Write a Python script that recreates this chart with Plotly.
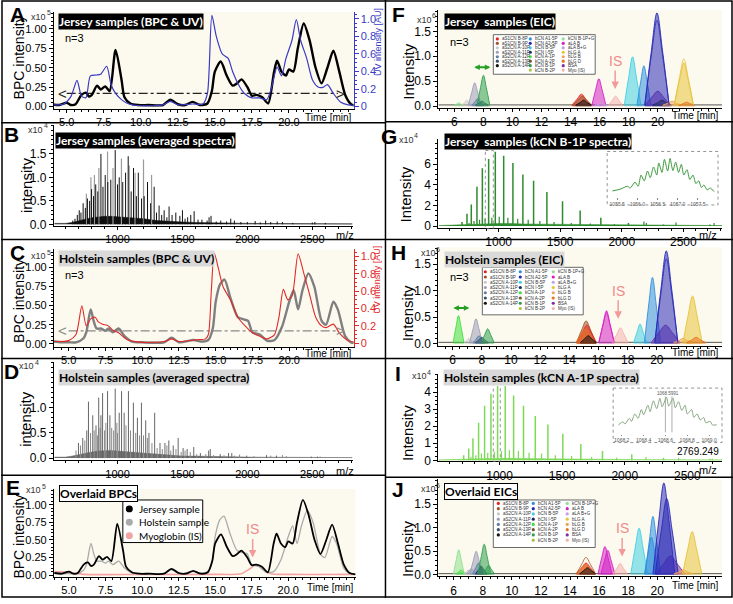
import plotly.graph_objects as go

W, H = 733, 604
def px(x): return x / W
def py(y): return 1 - y / H

# ======================= DATA =======================
# Base peak chromatograms (x10^5) vs time [min]
jersey_bpc_t = [4.0,4.5,5.0,5.3,5.6,6.0,6.3,6.5,6.7,7.05,7.3,7.6,7.9,8.3,8.7,8.9,9.3,9.8,10.5,11.5,12.0,12.5,13.0,13.5,14.0,14.5,14.8,15.0,15.4,15.8,16.2,16.5,16.8,17.2,17.5,17.8,18.2,18.6,19.0,19.2,19.5,19.8,20.0,20.3,20.6,21.0,21.4,21.8,22.2,22.6,23.0,23.4,23.8,24.2,24.6]
jersey_bpc_v = [0.03,0.02,0.05,0.02,0.03,0.15,0.18,0.13,0.15,0.27,0.22,0.26,0.2,0.73,0.35,0.12,0.04,0.02,0.02,0.02,0.09,0.03,0.02,0.06,0.02,0.04,0.2,0.45,0.58,0.4,0.27,0.3,0.35,0.25,0.14,0.15,0.12,0.04,0.45,0.59,0.45,0.4,0.48,0.45,0.75,1.07,0.85,0.5,0.3,0.5,0.72,0.45,0.15,0.03,0.01]
holstein_bpc_t = [4.0,4.5,5.0,5.5,6.0,6.2,6.5,6.7,6.9,7.2,7.5,7.7,8.0,8.4,8.8,9.3,10.0,11.5,12.0,12.5,13.5,14.0,14.5,14.8,15.0,15.3,15.6,16.0,16.5,16.9,17.2,17.5,18.0,18.5,19.0,19.5,20.0,20.3,20.6,20.9,21.3,21.7,22.2,22.5,23.0,23.3,23.8,24.2,24.6]
holstein_bpc_v = [0.03,0.02,0.02,0.02,0.07,0.15,0.45,0.3,0.2,0.2,0.17,0.2,0.15,0.2,0.1,0.03,0.02,0.02,0.08,0.02,0.05,0.03,0.05,0.2,0.55,0.78,0.84,0.6,0.35,0.32,0.3,0.15,0.12,0.04,0.05,0.22,0.55,0.7,0.45,0.7,0.92,0.75,0.3,0.25,0.55,0.45,0.1,0.02,0.01]
myo_bpc_t = [4.0,5.0,6.0,10.0,15.0,16.8,17.3,17.8,18.3,18.8,20.0,24.6]
myo_bpc_v = [0.05,0.04,0.01,0.01,0.01,0.02,0.08,0.15,0.08,0.02,0.01,0.01]
# UV traces [AU]
jersey_uv_t = [4.0,4.8,5.3,5.7,6.0,6.3,6.6,7.0,7.3,7.7,8.0,8.3,8.7,9.2,10.0,11.5,12.0,12.5,13.5,14.2,14.5,14.8,15.1,15.5,15.9,16.2,16.6,17.0,17.5,18.0,18.5,18.8,19.2,19.5,19.8,20.2,20.5,20.8,21.2,21.6,22.0,22.3,22.6,23.0,23.5,24.0,24.6]
jersey_uv_v = [0.02,0.03,0.12,0.3,0.12,0.1,0.35,0.36,0.37,0.46,0.25,0.15,0.08,0.03,0.01,0.02,0.06,0.02,0.03,0.03,0.15,1.04,0.8,0.6,0.55,0.4,0.25,0.15,0.1,0.1,0.08,0.2,0.45,0.35,0.55,0.75,0.99,0.75,0.55,0.3,0.22,0.22,0.25,0.15,0.05,0.02,0.01]
holstein_uv_t = [4.0,5.0,5.5,5.9,6.2,6.5,6.8,7.0,7.3,7.7,8.0,8.4,9.0,10.0,11.5,12.0,12.5,13.7,14.3,14.5,14.7,14.9,15.2,15.5,16.0,16.5,17.0,17.5,18.0,18.5,19.0,19.3,19.6,19.9,20.2,20.6,21.0,21.4,21.8,22.2,22.5,23.0,23.4,24.0,24.6]
holstein_uv_v = [0.02,0.03,0.1,0.43,0.2,0.28,0.3,0.25,0.22,0.2,0.15,0.12,0.04,0.01,0.02,0.05,0.02,0.04,0.05,0.1,0.6,1.04,0.85,0.65,0.5,0.3,0.2,0.12,0.08,0.05,0.1,0.3,0.62,0.5,0.55,1.03,0.8,0.55,0.3,0.2,0.18,0.22,0.12,0.03,0.01]
threshold_t = [5.0, 23.3]
threshold_v = [0.17, 0.17]

# Averaged spectra (x10^4) vs m/z
B_black_mz = [655,672,690,705,718,735,752,768,785,800,815,832,848,872,888,905,925,948,982,1000,1013,1040,1062,1082,1105,1123,1145,1160,1185,1205,1231,1255,1282,1300,1320,1340,1359,1380,1397,1420,1449,1480,1500,1520,1540,1564,1590,1620,1650,1690,1705,1720,1760,1795,1840,1872,1900,1950,2000,2060,2100,2141,2180,2230,2270,2350,2500,2520,2600]
B_black_h = [0.08,0.12,0.2,0.3,0.25,0.45,0.35,0.55,0.5,0.75,0.6,0.85,0.7,1.5,0.8,1.05,0.9,0.95,1.58,0.85,1.0,0.9,1.1,1.45,0.7,1.2,0.6,1.1,0.55,0.6,0.9,0.45,0.8,0.25,0.4,0.2,0.3,0.15,0.38,0.2,0.25,0.18,0.3,0.12,0.15,0.2,0.28,0.1,0.1,0.08,0.15,0.18,0.06,0.08,0.06,0.12,0.08,0.05,0.05,0.07,0.04,0.08,0.05,0.06,0.05,0.03,0.04,0.05,0.03]
B_gray_mz = [760,795,822,856,923,965,1030,1090,1135,1200,1262]
B_gray_h = [0.65,1.0,1.05,1.2,1.55,1.2,1.4,1.25,1.1,1.38,1.05]
B_base_mz = [515,600,650,700,750,800,850,900,950,1000,1100,1200,1300,1400,1500,1600,1700,1800,2000,2300,2810]
B_base_h = [0.02,0.02,0.04,0.08,0.11,0.14,0.16,0.17,0.17,0.16,0.14,0.12,0.08,0.06,0.05,0.04,0.03,0.03,0.02,0.02,0.01]
D_major_mz = [699,732,763,776,809,834,855,872,885,923,941,982,1013,1031,1051,1084,1122,1153,1184,1217,1242,1286,1327,1365,1395,1429,1467,1505,1536,1587,1638,1702,1714,1791,1855,1880,1995,2148,2224,2492,2540]
D_major_h = [0.3,0.4,0.55,1.12,0.85,0.65,1.2,0.85,1.29,1.33,0.85,1.38,0.9,1.33,0.9,1.33,1.1,0.8,1.1,0.75,0.5,0.9,0.3,0.3,0.35,0.25,0.4,0.2,0.18,0.22,0.1,0.15,0.18,0.08,0.1,0.1,0.05,0.06,0.05,0.03,0.03]
D_minor_mz = [680,715,748,792,820,845,865,900,910,955,970,995,1000,1065,1100,1140,1170,1200,1230,1265,1305,1345,1380,1410,1450,1490,1520,1560,1610,1680,1740,1820,1900,1940,2050,2180,2270,2300,2560]
D_minor_h = [0.15,0.25,0.35,0.5,0.55,0.45,0.6,0.55,0.7,0.6,0.55,0.7,0.5,0.65,0.55,0.5,0.45,0.45,0.4,0.3,0.2,0.18,0.25,0.15,0.18,0.12,0.15,0.12,0.08,0.08,0.06,0.06,0.05,0.07,0.04,0.05,0.06,0.04,0.03]
D_base_mz = [515,600,650,700,750,800,850,900,950,1000,1100,1200,1300,1400,1500,1600,1700,1800,2000,2300,2810]
D_base_h = [0.02,0.02,0.04,0.07,0.1,0.12,0.14,0.15,0.15,0.14,0.12,0.1,0.07,0.05,0.04,0.04,0.03,0.03,0.02,0.02,0.01]

# kCN spectra (x10^4)
G_major_mz = [703,743,778,824,868,919,973,1041,1116,1197,1284,1392,1519,1662,1830,2054,2338,2716]
G_major_h = [0.4,1.2,2.1,3.8,5.6,6.5,7.2,6.8,6.1,5.0,4.4,3.3,2.4,1.5,0.8,0.3,0.15,0.15]
G_minor_mz = [760,800,845,890,945,1005,1075,1155,1240,1335,1450,1590,1745,1940,2180,2200,2440,2750]
G_minor_h = [0.3,0.5,0.6,0.7,0.8,0.9,0.8,0.7,0.6,0.5,0.4,0.3,0.25,0.2,0.45,0.3,0.35,0.3]
I_major_mz = [713,753,787,832,880,931,984,1045,1112,1191,1285,1386,1505,1649,1822,2056,2309,2681]
I_major_h = [0.3,0.7,1.3,2.2,3.2,3.9,4.35,4.35,3.8,3.2,2.6,2.1,1.55,0.95,0.55,0.35,0.15,0.1]
I_minor_mz = [770,810,855,905,958,1015,1078,1150,1235,1335,1445,1575,1735,1935,2170,2430,2700]
I_minor_h = [0.2,0.3,0.4,0.45,0.5,0.55,0.6,0.55,0.45,0.4,0.3,0.25,0.2,0.15,0.2,0.15,0.1]
GI_base_mz = [515,650,700,800,900,1000,1100,1200,1400,1600,1800,2100,2500,2814]
G_base_h = [0.05,0.1,0.15,0.2,0.25,0.25,0.25,0.2,0.18,0.15,0.12,0.1,0.08,0.05]
I_base_h = [0.03,0.06,0.08,0.1,0.12,0.12,0.12,0.1,0.09,0.08,0.06,0.05,0.04,0.03]

# Insets (isotope patterns, relative intensity)
G_inset_mz = [1055.38,1055.59,1055.75,1055.82,1055.94,1056.02,1056.09,1056.17,1056.25,1056.32,1056.40,1056.48,1056.53,1056.61,1056.67,1056.75,1056.81,1056.88,1056.95,1057.02,1057.09,1057.15,1057.23,1057.30,1057.38,1057.45,1057.52,1057.59,1057.65,1057.73,1057.81,1057.90]
G_inset_v = [0.185,0.23,0.29,0.25,0.38,0.29,0.54,0.41,0.63,0.48,0.72,0.54,0.81,0.6,0.89,0.63,0.91,0.64,0.83,0.6,0.78,0.54,0.66,0.44,0.54,0.35,0.41,0.26,0.32,0.21,0.25,0.17]
G_inset_ticks = [1055.5, 1056.0, 1056.5, 1057.0, 1057.5]
I_inset_mz = [1068.17,1068.21,1068.23,1068.27,1068.29,1068.32,1068.35,1068.38,1068.40,1068.44,1068.46,1068.49,1068.52,1068.55,1068.57,1068.61,1068.63,1068.67,1068.69,1068.72,1068.75,1068.78,1068.80,1068.84,1068.86,1068.89,1068.92,1068.95,1068.97,1069.01,1069.03,1069.07]
I_inset_v = [0.25,0.32,0.27,0.4,0.33,0.5,0.4,0.6,0.48,0.7,0.55,0.8,0.62,0.86,0.66,0.88,0.68,0.86,0.64,0.78,0.58,0.7,0.5,0.6,0.42,0.5,0.36,0.42,0.3,0.33,0.25,0.25]
I_inset_ticks = [1068.2, 1068.4, 1068.6, 1068.8, 1069.0]
I_inset_marks = [1068.60, 1068.66]

# Extracted ion chromatograms (x10^6): (species, times, intensities)
F_eic = [
    ('kCN B-1P+G', [5.97,6.15,6.3,6.45,6.63], [0.02,0.042,0.07,0.042,0.02]),
    ('aS2CN A-10P', [6.52,6.7,6.85,7.0,7.18], [0.02,0.072,0.12,0.072,0.02]),
    ('aS2CN A-11P', [6.96,7.2,7.4,7.6,7.84], [0.02,0.28,0.47,0.28,0.02]),
    ('aS2CN A-12P', [7.2,7.42,7.6,7.78,8.0], [0.02,0.09,0.15,0.09,0.02]),
    ('aS2CN A-13P', [7.46,7.7,7.9,8.1,8.34], [0.02,0.06,0.1,0.06,0.02]),
    ('kCN B-1P', [7.56,7.8,8.0,8.2,8.44], [0.02,0.37,0.62,0.37,0.02]),
    ('aS1CN B-8P', [14.09,14.45,14.75,15.05,15.41], [0.02,0.14,0.24,0.14,0.02]),
    ('aS1CN B-9P', [14.14,14.5,14.8,15.1,15.46], [0.02,0.12,0.2,0.12,0.02]),
    ('aS2CN A-14P', [14.35,14.65,14.9,15.15,15.45], [0.02,0.07,0.12,0.07,0.02]),
    ('aLA B', [15.47,15.73,15.95,16.17,16.43], [0.02,0.33,0.55,0.33,0.02]),
    ('aLA B+G', [15.66,15.9,16.1,16.3,16.54], [0.02,0.036,0.06,0.036,0.02]),
    ('Myo (IS)', [16.62,16.88,17.1,17.32,17.58], [0.02,0.12,0.2,0.12,0.02]),
    ('bCN B-5P', [17.7,18.01,18.27,18.53,18.84], [0.02,0.59,0.99,0.59,0.02]),
    ('bCN A1-5P', [18.57,18.83,19.05,19.27,19.53], [0.02,0.49,0.81,0.49,0.02]),
    ('BSA', [19.12,19.6,20.0,20.4,20.88], [0.02,0.18,0.3,0.18,0.02]),
    ('bCN A2-5P', [19.11,19.57,19.95,20.33,20.79], [0.02,1.12,1.87,1.12,0.02]),
    ('bCN I-5P', [19.64,20.0,20.3,20.6,20.96], [0.02,0.07,0.12,0.07,0.02]),
    ('bLG B', [20.34,20.7,21.0,21.3,21.66], [0.02,0.06,0.1,0.06,0.02]),
    ('bLG A', [21.14,21.5,21.8,22.1,22.46], [0.02,0.52,0.87,0.52,0.02]),
    ('bLG D', [21.45,21.75,22.0,22.25,22.55], [0.02,0.05,0.08,0.05,0.02]),
]
F_rep = [
    ('bCN A2-5P', [19.11,19.57,19.95,20.33,20.79], [0.02,1.03,1.72,1.03,0.02]),
    ('bLG A', [21.14,21.5,21.8,22.1,22.46], [0.02,0.57,0.95,0.57,0.02]),
]
H_eic = [
    ('kCN A-1P', [6.03,6.23,6.4,6.57,6.77], [0.02,0.32,0.53,0.32,0.02]),
    ('aS2CN A-10P', [6.77,6.95,7.1,7.25,7.43], [0.02,0.06,0.1,0.06,0.02]),
    ('aS2CN A-11P', [7.16,7.4,7.6,7.8,8.04], [0.02,0.28,0.47,0.28,0.02]),
    ('aS2CN A-12P', [7.4,7.62,7.8,7.98,8.2], [0.02,0.09,0.15,0.09,0.02]),
    ('aS2CN A-13P', [7.56,7.8,8.0,8.2,8.44], [0.02,0.07,0.12,0.07,0.02]),
    ('kCN B-1P', [7.96,8.2,8.4,8.6,8.84], [0.02,0.17,0.28,0.17,0.02]),
    ('aS1CN B-9P', [14.49,14.85,15.15,15.45,15.81], [0.02,0.26,0.43,0.26,0.02]),
    ('aS1CN B-8P', [14.54,14.9,15.2,15.5,15.86], [0.02,0.21,0.35,0.21,0.02]),
    ('bLG D', [14.44,14.8,15.1,15.4,15.76], [0.02,0.17,0.28,0.17,0.02]),
    ('aS2CN A-14P', [14.75,15.05,15.3,15.55,15.85], [0.02,0.09,0.15,0.09,0.02]),
    ('aLA B', [16.02,16.31,16.55,16.79,17.08], [0.02,0.37,0.62,0.37,0.02]),
    ('Myo (IS)', [16.97,17.26,17.5,17.74,18.03], [0.02,0.18,0.3,0.18,0.02]),
    ('bCN B-5P', [18.41,18.65,18.85,19.05,19.29], [0.02,0.22,0.37,0.22,0.02]),
    ('bCN A1-5P', [19.15,19.45,19.7,19.95,20.25], [0.02,0.75,1.25,0.75,0.02]),
    ('BSA', [19.61,20.15,20.6,21.05,21.59], [0.02,0.21,0.35,0.21,0.02]),
    ('bCN A2-5P', [19.86,20.29,20.65,21.01,21.44], [0.02,1.05,1.75,1.05,0.02]),
    ('bLG B', [21.14,21.5,21.8,22.1,22.46], [0.02,0.06,0.1,0.06,0.02]),
    ('bLG A', [21.79,22.15,22.45,22.75,23.11], [0.02,0.54,0.9,0.54,0.02]),
    ('bLG D', [22.04,22.4,22.7,23.0,23.36], [0.02,0.07,0.12,0.07,0.02]),
]
H_rep = [
    ('bCN A2-5P', [19.86,20.29,20.65,21.01,21.44], [0.02,0.96,1.6,0.96,0.02]),
    ('aLA B', [16.02,16.31,16.55,16.79,17.08], [0.02,0.35,0.58,0.35,0.02]),
]
J_eic = [
    ('kCN B-1P+G', [5.98,6.18,6.35,6.52,6.72], [0.02,0.32,0.53,0.32,0.02]),
    ('kCN A-1P', [6.17,6.35,6.5,6.65,6.83], [0.02,0.06,0.1,0.06,0.02]),
    ('aS2CN A-10P', [6.67,6.85,7.0,7.15,7.33], [0.02,0.06,0.1,0.06,0.02]),
    ('aS2CN A-11P', [6.87,7.05,7.2,7.35,7.53], [0.02,0.08,0.13,0.08,0.02]),
    ('aS2CN A-11P', [7.11,7.35,7.55,7.75,7.99], [0.02,0.3,0.5,0.3,0.02]),
    ('aS2CN A-12P', [7.3,7.52,7.7,7.88,8.1], [0.02,0.15,0.25,0.15,0.02]),
    ('bCN I-5P', [7.5,7.72,7.9,8.08,8.3], [0.02,0.11,0.18,0.11,0.02]),
    ('kCN B-1P', [7.66,7.9,8.1,8.3,8.54], [0.02,0.39,0.65,0.39,0.02]),
    ('kCN B-1P', [8.0,8.22,8.4,8.58,8.8], [0.02,0.12,0.2,0.12,0.02]),
    ('aS1CN B-8P', [14.44,14.8,15.1,15.4,15.76], [0.02,0.15,0.25,0.15,0.02]),
    ('bLG D', [14.39,14.75,15.05,15.35,15.71], [0.02,0.13,0.22,0.13,0.02]),
    ('aS2CN A-14P', [14.65,14.95,15.2,15.45,15.75], [0.02,0.09,0.15,0.09,0.02]),
    ('aLA B', [15.92,16.18,16.4,16.62,16.88], [0.02,0.36,0.6,0.36,0.02]),
    ('aLA B', [16.12,16.38,16.6,16.82,17.08], [0.02,0.31,0.52,0.31,0.02]),
    ('Myo (IS)', [16.97,17.23,17.45,17.67,17.93], [0.02,0.14,0.24,0.14,0.02]),
    ('bCN B-5P', [18.18,18.49,18.75,19.01,19.32], [0.02,0.59,0.99,0.59,0.02]),
    ('bCN A1-5P', [19.17,19.46,19.7,19.94,20.23], [0.02,0.74,1.24,0.74,0.02]),
    ('bCN A1-5P', [19.12,19.38,19.6,19.82,20.08], [0.02,0.48,0.8,0.48,0.02]),
    ('BSA', [19.91,20.45,20.9,21.35,21.89], [0.02,0.24,0.4,0.24,0.02]),
    ('bCN A2-5P', [19.7,20.11,20.45,20.79,21.2], [0.02,1.17,1.95,1.17,0.02]),
    ('bCN A2-5P', [19.86,20.29,20.65,21.01,21.44], [0.02,0.97,1.62,0.97,0.02]),
    ('bLG B', [21.14,21.5,21.8,22.1,22.46], [0.02,0.06,0.1,0.06,0.02]),
    ('bLG A', [21.74,22.1,22.4,22.7,23.06], [0.02,0.55,0.92,0.55,0.02]),
]
J_rep = [
    ('aS1CN B-9P', [14.44,14.8,15.1,15.4,15.76], [0.02,0.22,0.37,0.22,0.02]),
]
eic_base_t = [4.9, 24.5]
eic_base_v = [0.025, 0.025]

legend_col1 = ['aS1CN B-8P','aS1CN B-9P','aS2CN A-10P','aS2CN A-11P','aS2CN A-12P','aS2CN A-13P','aS2CN A-14P']
legend_col2 = ['bCN A1-5P','bCN A2-5P','bCN B-5P','bCN I-5P','kCN A-1P','kCN A-2P','kCN B-1P','kCN B-2P']
legend_col3 = ['kCN B-1P+G','aLA B','aLA B+G','bLG A','bLG B','bLG D','BSA','Myo (IS)']
E_legend_names = ['Jersey sample', 'Holstein sample', 'Myoglobin (IS)']

# ======================= STYLE =======================
SPECIES_COLORS = {
    'aS1CN B-8P': '#e8231e', 'aS1CN B-9P': '#a0522d', 'aS2CN A-10P': '#c8c8c8',
    'aS2CN A-11P': '#9d9db8', 'aS2CN A-12P': '#5b7fa6', 'aS2CN A-13P': '#34506e',
    'aS2CN A-14P': '#111111', 'bCN A1-5P': '#2f8fe0', 'bCN A2-5P': '#2a2ab8',
    'bCN B-5P': '#3fd0e6', 'bCN I-5P': '#1c2b5e', 'kCN A-1P': '#3ee03e',
    'kCN A-2P': '#6b5b2b', 'kCN B-1P': '#2f9e4f', 'kCN B-2P': '#a8c23a',
    'kCN B-1P+G': '#8fe08f', 'aLA B': '#d41fc4', 'aLA B+G': '#c49fe3',
    'bLG A': '#e8c23a', 'bLG B': '#f0a060', 'bLG D': '#e8741f',
    'BSA': '#7f2f9f', 'Myo (IS)': '#f4b0b0',
}
E_legend_colors = ['#000000', '#aaaaaa', '#f4a3a3']
CREAM = '#fcfaee'
JBLUE = '#3a3ac4'
HRED = '#e02a2a'
ARIAL = 'Liberation Sans, Arial, sans-serif'
TITLEF = 'Lato, Open Sans, sans-serif'

def rgba(h, a):
    h = h.lstrip('#')
    return 'rgba(%d,%d,%d,%.2f)' % (int(h[0:2], 16), int(h[2:4], 16), int(h[4:6], 16), a)

fig = go.Figure()

def add_line(x, y, xa, ya, color, width, spline=True, dash=None):
    ln = dict(color=color, width=width)
    if spline:
        ln.update(shape='spline', smoothing=0.7)
    if dash:
        ln['dash'] = dash
    fig.add_trace(go.Scatter(x=x, y=y, xaxis=xa, yaxis=ya, mode='lines', line=ln,
                             hoverinfo='skip', showlegend=False))

def sticks(mz, h):
    xs, ys = [], []
    for m, v in zip(mz, h):
        xs += [m, m, None]
        ys += [0, v, None]
    return xs, ys

def add_sticks(mz, h, xa, ya, color, width=1):
    xs, ys = sticks(mz, h)
    fig.add_trace(go.Scatter(x=xs, y=ys, xaxis=xa, yaxis=ya, mode='lines',
                             line=dict(color=color, width=width), hoverinfo='skip', showlegend=False))

def add_fill(x, y, xa, ya, color):
    fig.add_trace(go.Scatter(x=x, y=y, xaxis=xa, yaxis=ya, mode='lines', fill='tozeroy',
                             fillcolor=color, line=dict(color=color, width=0.5),
                             hoverinfo='skip', showlegend=False))

def add_eic(peaks, reps, xa, ya):
    add_line(eic_base_t, eic_base_v, xa, ya, '#555555', 1, spline=False)
    for sp, t, v in peaks:
        c = SPECIES_COLORS[sp]
        fig.add_trace(go.Scatter(x=t, y=v, xaxis=xa, yaxis=ya, mode='lines', fill='tozeroy',
                                 fillcolor=rgba(c, 0.55),
                                 line=dict(color=c, width=0.9, shape='spline', smoothing=1.0),
                                 hoverinfo='skip', showlegend=False))
    for sp, t, v in reps:
        c = SPECIES_COLORS[sp]
        fig.add_trace(go.Scatter(x=t, y=v, xaxis=xa, yaxis=ya, mode='lines',
                                 line=dict(color=c, width=0.8, shape='spline', smoothing=1.0),
                                 hoverinfo='skip', showlegend=False))

# ---- A: Jersey BPC & UV
add_line(threshold_t, threshold_v, 'x', 'y', '#222222', 1.2, spline=False, dash='dashdot')
add_line(jersey_uv_t, jersey_uv_v, 'x', 'y11', JBLUE, 1.2)
add_line(jersey_bpc_t, jersey_bpc_v, 'x', 'y', '#000000', 2.4)
# ---- B: Jersey averaged spectra
add_fill(B_base_mz, B_base_h, 'x2', 'y2', '#111111')
add_sticks(B_gray_mz, B_gray_h, 'x2', 'y2', '#9a9a9a', 1.2)
add_sticks(B_black_mz, B_black_h, 'x2', 'y2', '#111111', 1)
# ---- C: Holstein BPC & UV
add_line(threshold_t, threshold_v, 'x3', 'y3', '#888888', 1.2, spline=False, dash='dashdot')
add_line(holstein_uv_t, holstein_uv_v, 'x3', 'y12', HRED, 1.1)
add_line(holstein_bpc_t, holstein_bpc_v, 'x3', 'y3', '#7f7f7f', 2.4)
# ---- D: Holstein averaged spectra
add_fill(D_base_mz, D_base_h, 'x4', 'y4', '#6e6e6e')
add_sticks(D_minor_mz, D_minor_h, 'x4', 'y4', '#8a8a8a', 1)
add_sticks(D_major_mz, D_major_h, 'x4', 'y4', '#666666', 1)
# ---- E: overlaid BPCs
add_line(myo_bpc_t, myo_bpc_v, 'x5', 'y5', E_legend_colors[2], 1.6)
add_line(holstein_bpc_t, holstein_bpc_v, 'x5', 'y5', E_legend_colors[1], 1.3)
add_line(jersey_bpc_t, jersey_bpc_v, 'x5', 'y5', E_legend_colors[0], 1.8)
# ---- F, H, J: EICs
add_eic(F_eic, F_rep, 'x6', 'y6')
add_eic(H_eic, H_rep, 'x8', 'y8')
add_eic(J_eic, J_rep, 'x10', 'y10')
# ---- G, I: kCN spectra
add_fill(GI_base_mz, G_base_h, 'x7', 'y7', '#2e8b2e')
add_sticks(G_minor_mz, G_minor_h, 'x7', 'y7', '#2e8b2e', 1.2)
add_sticks(G_major_mz, G_major_h, 'x7', 'y7', '#2e8b2e', 1.5)
add_fill(GI_base_mz, I_base_h, 'x9', 'y9', '#7ed957')
add_sticks(I_minor_mz, I_minor_h, 'x9', 'y9', '#7ed957', 1.2)
add_sticks(I_major_mz, I_major_h, 'x9', 'y9', '#7ed957', 1.5)
# ---- insets
add_line(G_inset_mz, G_inset_v, 'x11', 'y13', '#3c9a3c', 1)
mk_x, mk_y = [], []
for m in I_inset_marks:
    mk_x += [m, m, None]
    mk_y += [0.08, 0.9, None]
fig.add_trace(go.Scatter(x=mk_x, y=mk_y, xaxis='x12', yaxis='y14', mode='lines',
                         line=dict(color='#999999', width=0.8), hoverinfo='skip', showlegend=False))
add_line(I_inset_mz, I_inset_v, 'x12', 'y14', '#8aa882', 1)

# ======================= AXES =======================
TF = dict(family=ARIAL, size=11, color='black')

def xax(x0, x1, rng, tv, tt, mdt, anchor, tf=TF):
    return dict(domain=[px(x0), px(x1)], range=rng, anchor=anchor,
                showline=True, linecolor='black', linewidth=1,
                ticks='outside', ticklen=3, tickwidth=1, tickcolor='black',
                tickmode='array', tickvals=tv, ticktext=tt, tickfont=tf,
                showgrid=False, zeroline=False,
                minor=dict(ticks='outside', ticklen=2, dtick=mdt, tick0=0,
                           tickcolor='black', showgrid=False))

def yax(top, bot, rng, tv, tt, mdt, anchor, color='black', side='left', overlaying=None, tf=TF):
    d = dict(domain=[py(bot), py(top)], range=rng, anchor=anchor, side=side,
             showline=True, linecolor=color, linewidth=1,
             ticks='outside', ticklen=4, tickwidth=1, tickcolor=color,
             tickmode='array', tickvals=tv, ticktext=tt,
             tickfont=dict(family=tf['family'], size=tf['size'], color=color),
             showgrid=False, zeroline=False,
             minor=dict(ticks='outside', ticklen=2, dtick=mdt, tick0=0,
                        tickcolor=color, showgrid=False))
    if overlaying:
        d['overlaying'] = overlaying
    return d

t_tv = [5, 7.5, 10, 12.5, 15, 17.5, 20]
t_tt = ['5.0', '7.5', '10.0', '12.5', '15.0', '17.5', '20.0']
b_tv = [0, 0.25, 0.5, 0.75, 1.0]
b_tt = ['0.00', '0.25', '0.50', '0.75', '1.00']
uv_tv = [0, 0.2, 0.4, 0.6, 0.8, 1.0]
uv_tt = ['0', '0.2', '0.4', '0.6', '0.8', '1.0']
mz_tv = [1000, 1500, 2000, 2500]
mz_tt = ['1000', '1500', '2000', '2500']
e_tv = [6, 8, 10, 12, 14, 16, 18, 20]
e_tt = ['6', '8', '10', '12', '14', '16', '18', '20']
TF12 = dict(family=ARIAL, size=12, color='black')

layout = {}
layout['xaxis'] = xax(53, 353, [4.14, 24.36], t_tv, t_tt, 0.5, 'y')
layout['yaxis'] = yax(12, 110, [-0.03, 1.22], b_tv, b_tt, 0.05, 'x')
layout['yaxis11'] = yax(12, 110, [-0.026, 1.079], uv_tv, uv_tt, 0.05, 'x', color=JBLUE, side='right', overlaying='y')
layout['xaxis2'] = xax(53, 352, [510, 2810], mz_tv, mz_tt, 100, 'y2')
layout['yaxis2'] = yax(126, 228, [-0.03, 2.12], [0, 0.5, 1.0, 1.5], ['0.0', '0.5', '1.0', '1.5'], 0.1, 'x2', tf=TF12)
layout['xaxis3'] = xax(53, 353, [4.0, 24.37], t_tv, t_tt, 0.5, 'y3')
layout['yaxis3'] = yax(252, 350, [-0.035, 1.233], b_tv, b_tt, 0.05, 'x3')
layout['yaxis12'] = yax(252, 350, [-0.038, 1.08], uv_tv, uv_tt, 0.05, 'x3', color=HRED, side='right', overlaying='y3')
layout['xaxis4'] = xax(53, 352, [510, 2810], mz_tv, mz_tt, 100, 'y4')
layout['yaxis4'] = yax(366, 465, [-0.045, 1.9], [0, 0.5, 1.0], ['0.0', '0.5', '1.0'], 0.1, 'x4', tf=TF12)
layout['xaxis5'] = xax(53, 355, [3.97, 24.6], t_tv, t_tt, 0.5, 'y5')
layout['yaxis5'] = yax(494, 583, [-0.03, 1.225], b_tv, b_tt, 0.05, 'x5')
layout['xaxis6'] = xax(438, 722, [4.9, 24.43], e_tv, e_tt, 0.5, 'y6', tf=TF12)
layout['yaxis6'] = yax(10, 109, [-0.035, 1.93], [0, 0.5, 1.0, 1.5], ['0.0', '0.5', '1.0', '1.5'], 0.1, 'x6', tf=TF12)
layout['xaxis7'] = xax(438, 722, [511, 2814], mz_tv, mz_tt, 100, 'y7', tf=TF12)
layout['yaxis7'] = yax(140, 230, [-0.16, 8.47], [0, 2, 4, 6], ['0', '2', '4', '6'], 0.5, 'x7', tf=TF12)
layout['xaxis8'] = xax(438, 722, [5.02, 24.47], e_tv, e_tt, 0.5, 'y8', tf=TF12)
layout['yaxis8'] = yax(250, 349, [-0.035, 1.815], [0, 0.5, 1.0, 1.5], ['0.0', '0.5', '1.0', '1.5'], 0.1, 'x8', tf=TF12)
layout['xaxis9'] = xax(438, 722, [511, 2777], mz_tv, mz_tt, 100, 'y9', tf=TF12)
layout['yaxis9'] = yax(378, 466, [-0.06, 5.04], [0, 1, 2, 3, 4], ['0', '1', '2', '3', '4'], 0.25, 'x9', tf=TF12)
layout['xaxis10'] = xax(438, 722, [4.95, 24.45], e_tv, e_tt, 0.5, 'y10', tf=TF12)
layout['yaxis10'] = yax(484, 582, [-0.03, 2.03], [0, 0.5, 1.0, 1.5], ['0.0', '0.5', '1.0', '1.5'], 0.1, 'x10', tf=TF12)
# insets
tiny = dict(family=ARIAL, size=5, color='#555555')
layout['xaxis11'] = dict(domain=[px(609), px(716)], range=[1055.3, 1057.95], anchor='y13',
                         showline=False, ticks='outside', ticklen=1.5, tickcolor='#888888',
                         tickvals=G_inset_ticks, ticktext=['%.1f' % v for v in G_inset_ticks],
                         tickfont=tiny, showgrid=False, zeroline=False)
layout['yaxis13'] = dict(domain=[py(199), py(156)], range=[0.05, 1.0], anchor='x11', visible=False)
layout['xaxis12'] = dict(domain=[px(615), px(720)], range=[1068.14, 1069.1], anchor='y14',
                         showline=False, ticks='outside', ticklen=1.5, tickcolor='#888888',
                         tickvals=I_inset_ticks, ticktext=['%.1f' % v for v in I_inset_ticks],
                         tickfont=tiny, showgrid=False, zeroline=False)
layout['yaxis14'] = dict(domain=[py(438), py(396)], range=[0.05, 1.0], anchor='x12', visible=False)

# ======================= SHAPES =======================
shapes = []
for xa, ya in [('x', 'y'), ('x3', 'y3'), ('x5', 'y5'), ('x6', 'y6'), ('x8', 'y8'), ('x10', 'y10')]:
    shapes.append(dict(type='rect', xref=xa + ' domain', yref=ya + ' domain', x0=0, x1=1, y0=0, y1=1,
                       fillcolor=CREAM, line=dict(width=0), layer='below'))
def pline(x0, y0, x1, y1, w=1.5, color='black', dash=None):
    d = dict(type='line', xref='paper', yref='paper', x0=px(x0), y0=py(y0), x1=px(x1), y1=py(y1),
             line=dict(color=color, width=w))
    if dash:
        d['line']['dash'] = dash
    shapes.append(d)
def prect(x0, y0, x1, y1, color='black', w=1, dash=None, fill=None):
    d = dict(type='rect', xref='paper', yref='paper', x0=px(x0), y0=py(y0), x1=px(x1), y1=py(y1),
             line=dict(color=color, width=w))
    if dash:
        d['line']['dash'] = dash
    if fill:
        d['fillcolor'] = fill
    shapes.append(d)

prect(1, 1, 732, 603, w=1.5)
pline(385, 0, 385, 604, w=1.5)
for yy in [124, 242, 362, 480]:
    pline(0, yy, 385, yy)
for yy in [123, 242, 362, 482]:
    pline(385, yy, 733, yy)
# dotted boxes in G and I
prect(485, 152, 493, 231, color='#777777', w=0.8, dash='dot')
prect(607, 153, 718, 207, color='#777777', w=0.8, dash='dot')
prect(493, 387, 500, 466, color='#777777', w=0.8, dash='dot')
prect(613, 392, 722, 447, color='#777777', w=0.8, dash='dot')

# ======================= ANNOTATIONS =======================
ann = []
def text(x, y, s, size=11, color='black', family=ARIAL, xanchor='center', yanchor='middle', angle=0, bold=False, **kw):
    f = dict(family=family, size=size, color=color)
    if bold:
        f['weight'] = 'bold'
    d = dict(xref='paper', yref='paper', x=px(x), y=py(y), text=s, showarrow=False,
             xanchor=xanchor, yanchor=yanchor, textangle=angle, font=f)
    d.update(kw)
    ann.append(d)

# panel letters
for L, x, y in [('A', 17, 15), ('B', 11, 136), ('C', 17, 255), ('D', 11, 375), ('E', 12, 492),
                ('F', 398, 15), ('G', 389, 138), ('H', 398, 255), ('I', 398, 377), ('J', 398, 494)]:
    text(x, y, L, size=21, bold=True)

# exponent labels (x10 with raised power)
for s, x, y in [('5', 40, 17), ('4', 37, 131), ('5', 40, 259), ('4', 28, 370), ('5', 35, 495),
                ('6', 426, 20), ('4', 408, 141), ('6', 430, 256), ('4', 421, 380), ('6', 430, 494)]:
    text(x - 2, y, 'x10', size=9, color='#333333')
    text(x + 8, y - 4, s, size=7, color='#333333')

# title boxes
def title_box(x, y, s, style):
    if style == 'black':
        text(x, y, s, size=12, color='white', family=TITLEF, xanchor='left', bold=True,
             bgcolor='black', borderpad=0)
    elif style == 'gray':
        text(x, y, s, size=12, color='black', family=TITLEF, xanchor='left', bold=True,
             bgcolor='#d9d9d9', borderpad=0)
    else:
        text(x, y, s, size=12, color='black', family=TITLEF, xanchor='left', bold=True,
             bgcolor='white', bordercolor='black', borderwidth=1, borderpad=0)
title_box(57, 22, 'Jersey samples (BPC &amp; UV)', 'black')
title_box(54, 142, 'Jersey samples (averaged spectra)', 'black')
title_box(57, 261, 'Holstein samples (BPC &amp; UV)', 'gray')
title_box(57, 381, 'Holstein samples (averaged spectra)', 'gray')
title_box(58, 498, 'Overlaid BPCs', 'white')
title_box(444, 22, 'Jersey  samples (EIC)', 'black')
title_box(444, 143, 'Jersey  samples (kCN B-1P spectra)', 'black')
title_box(444, 262, 'Holstein samples (EIC)', 'gray')
title_box(443, 381, 'Holstein samples (kCN A-1P spectra)', 'gray')
title_box(444, 496, 'Overlaid EICs', 'white')

# y-axis titles
for s, x, y, sz in [('BPC intensity', 18, 58, 14), ('intensity', 25, 187, 15), ('BPC intensity', 18, 304, 14),
                    ('intensity', 25, 423, 15), ('BPC intensity', 18, 542, 14),
                    ('Intensity', 408, 72, 15), ('Intensity', 405, 196, 15), ('Intensity', 407, 316, 15),
                    ('Intensity', 407, 437, 15), ('Intensity', 407, 554, 15)]:
    text(x, y, s, size=sz, angle=-90)
text(377, 42, 'UV intensity [AU]', size=9, color=JBLUE, angle=-90)
text(377, 282, 'UV intensity [AU]', size=9, color=HRED, angle=-90)

# axis unit labels
for x, y in [(353, 119), (353, 357), (355, 593), (721, 117), (721, 356), (721, 591)]:
    text(x, y, 'Time [min]', size=10, xanchor='right')
for x, y in [(355, 237), (355, 476), (719, 237), (719, 475)]:
    text(x, y, 'm/z', size=11, xanchor='right')

# n=3
for x, y in [(74, 38), (74, 278), (459, 42), (459, 280)]:
    text(x, y, 'n=3', size=11)

# threshold arrowheads
text(62, 94, '&lt;', size=15, color='#222222')
text(340, 94, '&gt;', size=15, color='#222222')
text(62, 334, '&lt;', size=15, color='#888888')
text(340, 334, '&gt;', size=15, color='#888888')

# IS arrows
for x, ytip in [(615, 90), (618, 322), (622, 562), (252, 563)]:
    ann.append(dict(xref='paper', yref='paper', x=px(x), y=py(ytip), ax=0, ay=-28,
                    text='IS', showarrow=True, arrowhead=2, arrowsize=1, arrowwidth=1.5,
                    arrowcolor='#f29a9a', font=dict(family=ARIAL, size=14, color='#f08a8a')))
# green double arrows
for x0, x1, y in [(472, 490, 68), (451, 469, 311)]:
    ann.append(dict(xref='paper', yref='paper', x=px(x1), y=py(y), ax=-(x1 - x0), ay=0,
                    text=' ', showarrow=True, arrowhead=2, arrowside='end+start', arrowsize=0.55,
                    arrowwidth=2, arrowcolor='#22a022', font=dict(size=2)))

# E legend
prect(122, 505, 202, 548, w=1, fill='white')
for i, (nm, c) in enumerate(zip(E_legend_names, E_legend_colors)):
    yy = 514 + i * 13.5
    shapes.append(dict(type='circle', xref='paper', yref='paper', x0=px(125), x1=px(132),
                       y0=py(yy + 3.5), y1=py(yy - 3.5), fillcolor=c, line=dict(width=0)))
    text(136, yy, nm, size=10, family=TITLEF, xanchor='left')

# EIC legends
def eic_legend(bx0, by0, bx1, by1, colx, row0, dy):
    prect(bx0, by0, bx1, by1, color='#444444', w=0.8, fill='white')
    for cx, col in zip(colx, [legend_col1, legend_col2, legend_col3]):
        for i, nm in enumerate(col):
            yy = row0 + i * dy
            shapes.append(dict(type='circle', xref='paper', yref='paper', x0=px(cx - 1.6), x1=px(cx + 1.6),
                               y0=py(yy + 1.6), y1=py(yy - 1.6), fillcolor=SPECIES_COLORS[nm], line=dict(width=0)))
            text(cx + 3, yy, nm, size=4.5, color='#333333', xanchor='left')
eic_legend(493, 35, 595, 75, [497, 530, 563], 39.3, 4.5)
eic_legend(482, 270, 583, 318, [485, 520, 553], 274.5, 5.3)
eic_legend(493, 505, 595, 553, [498, 533, 567], 508.5, 5.3)

# inset labels
text(668, 397, '1068.5991', size=4.5, color='#555555')
text(721, 456, '2769.249', size=10, xanchor='right')

layout.update(width=W, height=H, margin=dict(l=0, r=0, t=0, b=0), paper_bgcolor='white',
              plot_bgcolor='white', showlegend=False, shapes=shapes, annotations=ann,
              hovermode=False)
fig.update_layout(**layout)
fig.write_html('out.html', config={'displayModeBar': False},
               post_script="document.body.style.margin='0px';document.body.style.padding='0px';")
